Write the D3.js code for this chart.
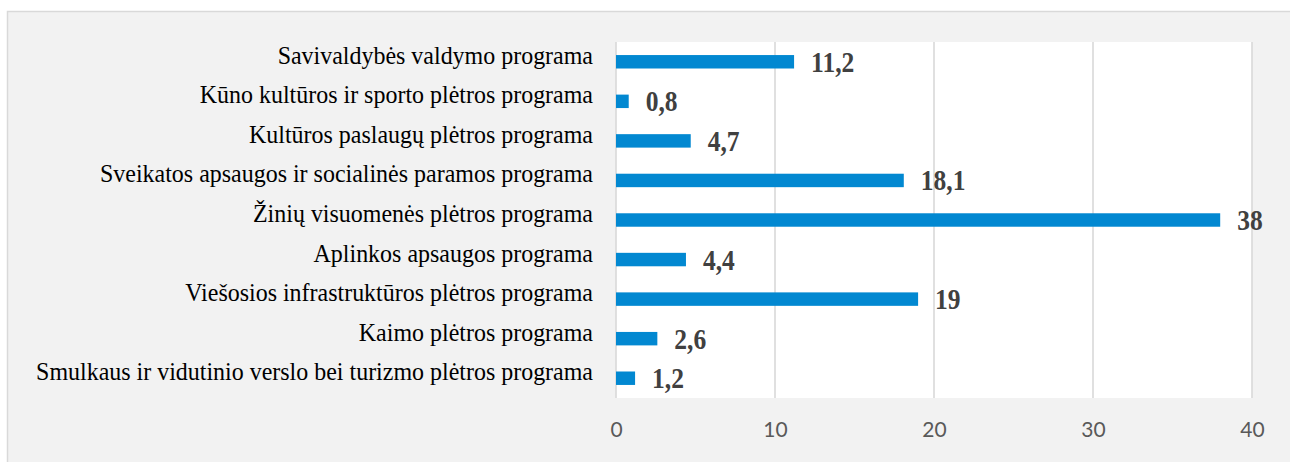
<!DOCTYPE html>
<html>
<head>
<meta charset="utf-8">
<script src="https://cdn.jsdelivr.net/npm/d3@7"></script>
<style>
  html, body { margin: 0; padding: 0; background: #ffffff; }
  svg { display: block; }
</style>
</head>
<body>
<svg id="chart" width="1290" height="462"></svg>
<script>
const categories = [
  "Savivaldybės valdymo programa",
  "Kūno kultūros ir sporto plėtros programa",
  "Kultūros paslaugų plėtros programa",
  "Sveikatos apsaugos ir socialinės paramos programa",
  "Žinių visuomenės plėtros programa",
  "Aplinkos apsaugos programa",
  "Viešosios infrastruktūros plėtros programa",
  "Kaimo plėtros programa",
  "Smulkaus ir vidutinio verslo bei turizmo plėtros programa"
];
const values = [11.2, 0.8, 4.7, 18.1, 38, 4.4, 19, 2.6, 1.2];
const valueLabels = ["11,2", "0,8", "4,7", "18,1", "38", "4,4", "19", "2,6", "1,2"];
const tickValues = [0, 10, 20, 30, 40];

const svg = d3.select("#chart");
const W = 1290, H = 462;
const plot = { left: 616, right: 1252, top: 42, bottom: 398 };

// outer chart area
svg.append("rect")
  .attr("x", 7.5).attr("y", 11.5)
  .attr("width", W).attr("height", H)
  .attr("fill", "#f2f2f2").attr("stroke", "#d9d9d9").attr("stroke-width", 1.5);

// plot area
svg.append("rect")
  .attr("x", plot.left).attr("y", plot.top)
  .attr("width", plot.right - plot.left).attr("height", plot.bottom - plot.top)
  .attr("fill", "#ffffff");

const x = d3.scaleLinear().domain([0, 40]).range([plot.left, plot.right]);
const y = d3.scaleBand().domain(categories).range([plot.top, plot.bottom])
  .paddingInner(0.66).paddingOuter(0.33);

// gridlines
svg.append("g").selectAll("line").data(tickValues).join("line")
  .attr("x1", d => x(d)).attr("x2", d => x(d))
  .attr("y1", plot.top).attr("y2", plot.bottom)
  .attr("stroke", "#d9d9d9").attr("stroke-width", 1.6);

// x axis tick labels
const xAxis = d3.axisBottom(x).tickValues(tickValues).tickSize(0).tickPadding(0).tickFormat(d3.format("d"));
const gx = svg.append("g").attr("transform", `translate(0,${plot.bottom})`).call(xAxis);
gx.select(".domain").remove();
gx.selectAll("text")
  .attr("y", 39).attr("dy", null)
  .attr("fill", "#595959")
  .style("font-family", "Lato, 'Open Sans', sans-serif")
  .style("font-size", "21px");

// bars
svg.append("g").selectAll("rect").data(values).join("rect")
  .attr("x", x(0))
  .attr("y", (d, i) => y(categories[i]))
  .attr("width", d => x(d) - x(0))
  .attr("height", y.bandwidth())
  .attr("fill", "#0288d1");

// value labels (slightly condensed serif, as in the reference)
svg.append("g").selectAll("text").data(values).join("text")
  .attr("transform", (d, i) => `translate(${x(d) + 17},${y(categories[i]) + y.bandwidth() / 2 + 10}) scale(0.88,1)`)
  .text((d, i) => valueLabels[i])
  .attr("fill", "#404040")
  .style("font-family", "'Liberation Serif', 'Times New Roman', serif")
  .style("font-weight", "bold")
  .style("font-size", "29px");

// category labels
svg.append("g").selectAll("text").data(categories).join("text")
  .attr("transform", d => `translate(593,${y(d) + y.bandwidth() / 2 + 2}) scale(0.94,1)`)
  .attr("text-anchor", "end")
  .text(d => d)
  .attr("fill", "#000000")
  .style("font-family", "'Liberation Serif', 'Times New Roman', serif")
  .style("font-size", "25.5px");
</script>
</body>
</html>
